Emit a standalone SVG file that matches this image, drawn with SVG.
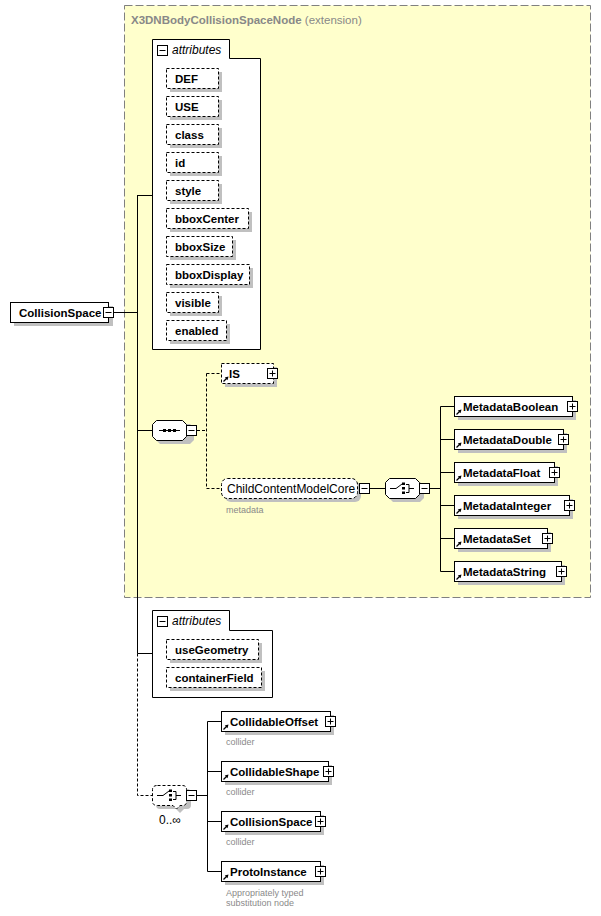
<svg xmlns="http://www.w3.org/2000/svg" width="601" height="916" viewBox="0 0 601 916">
<style>
.bg{fill:#fff}
.sh{fill:#c0c0c0;stroke:none}
.box{fill:#fff;stroke:#000;stroke-width:1}
.dbox{fill:#fff;stroke:#000;stroke-width:1;stroke-dasharray:3,2}
.el{font-family:"Liberation Sans",Arial,sans-serif;font-weight:bold;font-size:11.5px;fill:#000}
.reg{font-family:"Liberation Sans",Arial,sans-serif;font-size:12px;fill:#000}
.small{font-family:"Liberation Sans",Arial,sans-serif;font-size:9px;fill:#8a8a8a}
.ital{font-family:"Liberation Sans",Arial,sans-serif;font-style:italic;font-size:12px;fill:#000}
.title{font-family:"Liberation Sans",Arial,sans-serif;font-size:11.5px;fill:#888}
.ln{fill:none;stroke:#000;stroke-width:1}
.dln{fill:none;stroke:#000;stroke-width:1;stroke-dasharray:3,2}
.ic{fill:#fff;stroke:#000;stroke-width:1}
.pm{fill:none;stroke:#000;stroke-width:1}
</style>
<defs>
<g id="plus"><rect class="ic" x="0" y="0" width="10" height="10"/><path class="pm" d="M2,5H8M5,2V8"/></g>
<g id="minus"><rect class="ic" x="0" y="0" width="10" height="10"/><path class="pm" d="M2,5H8"/></g>
<g id="arr"><path d="M0.5,5.5L4,2" stroke="#000" stroke-width="1.2" fill="none"/><polygon points="5.5,0.5 1.8,1.5 4.5,4.2" fill="#000"/></g>
</defs>

<!-- extension box -->
<g id="ext">
<rect x="124.5" y="5.5" width="466" height="592" fill="#ffffcc" stroke="#808080" stroke-width="1" stroke-dasharray="8,3"/>
<text x="131" y="24" class="title"><tspan font-weight="bold">X3DNBodyCollisionSpaceNode</tspan> (extension)</text>
</g>

<!-- connectors -->
<g id="connectors">
<path class="ln" d="M113,312.5H137.5M137.5,195V653.5M137.5,195.5H152M137.5,430.5H152M137.5,653.5H152"/>
<path class="dln" d="M137.5,653.5V795.5H152"/>
<path class="dln" d="M197,430.5H206.5M206.5,373.5V488.5M206.5,373.5H221M206.5,488.5H221"/>
<path class="ln" d="M370,488.5H385M430,488.5H440.5M440.5,406.5V571.5M440.5,406.5H454M440.5,439.5H454M440.5,472.5H454M440.5,505.5H454M440.5,538.5H454M440.5,571.5H454"/>
<path class="ln" d="M197,795.5H207.5M207.5,721.5V871.5M207.5,721.5H221M207.5,771.5H221M207.5,821.5H221M207.5,871.5H221"/>
</g>

<!-- root -->
<g id="n-root">
<rect class="sh" x="14" y="306" width="99" height="20"/>
<rect class="box" x="10.5" y="302.5" width="98" height="20"/>
<text x="19" y="317" class="el">CollisionSpace</text>
<use href="#minus" x="103.5" y="307.5"/>
</g>

<!-- attributes group 1 -->
<g id="n-attrs1">
<path class="box" d="M152.5,349.5V39.5H229.5V58.5H260.5V349.5Z"/>
<use href="#minus" x="157.5" y="45.5"/>
<text x="172" y="54" class="ital">attributes</text>
</g>
<g id="a-DEF"><rect class="sh" x="170" y="72" width="52" height="20"/><rect class="dbox" x="166.5" y="68.5" width="52" height="20"/><text x="175" y="83" class="el">DEF</text></g>
<g id="a-USE"><rect class="sh" x="170" y="100" width="52" height="20"/><rect class="dbox" x="166.5" y="96.5" width="52" height="20"/><text x="175" y="111" class="el">USE</text></g>
<g id="a-class"><rect class="sh" x="170" y="128" width="52" height="20"/><rect class="dbox" x="166.5" y="124.5" width="52" height="20"/><text x="175" y="139" class="el">class</text></g>
<g id="a-id"><rect class="sh" x="170" y="156" width="52" height="20"/><rect class="dbox" x="166.5" y="152.5" width="52" height="20"/><text x="175" y="167" class="el">id</text></g>
<g id="a-style"><rect class="sh" x="170" y="184" width="52" height="20"/><rect class="dbox" x="166.5" y="180.5" width="52" height="20"/><text x="175" y="195" class="el">style</text></g>
<g id="a-bboxCenter"><rect class="sh" x="170" y="212" width="82" height="20"/><rect class="dbox" x="166.5" y="208.5" width="82" height="20"/><text x="175" y="223" class="el">bboxCenter</text></g>
<g id="a-bboxSize"><rect class="sh" x="170" y="240" width="66" height="20"/><rect class="dbox" x="166.5" y="236.5" width="66" height="20"/><text x="175" y="251" class="el">bboxSize</text></g>
<g id="a-bboxDisplay"><rect class="sh" x="170" y="268" width="83" height="20"/><rect class="dbox" x="166.5" y="264.5" width="83" height="20"/><text x="175" y="279" class="el">bboxDisplay</text></g>
<g id="a-visible"><rect class="sh" x="170" y="296" width="52" height="20"/><rect class="dbox" x="166.5" y="292.5" width="52" height="20"/><text x="175" y="307" class="el">visible</text></g>
<g id="a-enabled"><rect class="sh" x="170" y="324" width="60" height="20"/><rect class="dbox" x="166.5" y="320.5" width="60" height="20"/><text x="175" y="335" class="el">enabled</text></g>

<!-- sequence -->
<g id="n-seq">
<polygon class="sh" points="160,424 190,424 194,428 194,440 190,444 160,444 156,440 156,428"/>
<polygon class="box" points="156.5,420.5 182.5,420.5 186.5,424.5 186.5,436.5 182.5,440.5 156.5,440.5 152.5,436.5 152.5,424.5"/>
<path class="ln" d="M159,430.5H180"/>
<rect x="163" y="429" width="3" height="3" fill="#000"/><rect x="168" y="429" width="3" height="3" fill="#000"/><rect x="173" y="429" width="3" height="3" fill="#000"/>
<use href="#minus" x="186.5" y="425.5"/>
</g>

<!-- IS -->
<g id="n-IS">
<rect class="sh" x="225" y="367" width="52" height="20"/>
<rect class="dbox" x="221.5" y="363.5" width="52" height="20"/>
<use href="#arr" x="223" y="376"/>
<text x="229" y="378" class="el">IS</text>
<use href="#plus" x="267.5" y="368.5"/>
</g>

<!-- ChildContentModelCore -->
<g id="n-ccmc">
<rect class="sh" x="225" y="482" width="136" height="20" rx="6"/>
<rect class="dbox" x="221.5" y="478.5" width="136" height="20" rx="6"/>
<text x="227" y="493" class="reg">ChildContentModelCore</text>
<use href="#minus" x="359.5" y="483.5"/>
<text x="226" y="513" class="small">metadata</text>
</g>

<!-- choice 1 -->
<g id="n-choice1">
<polygon class="sh" points="393,482 420,482 424,486 424,498 420,502 393,502 389,498 389,486"/>
<polygon class="box" points="389.5,478.5 415.5,478.5 419.5,482.5 419.5,494.5 415.5,498.5 389.5,498.5 385.5,494.5 385.5,482.5"/>
<path class="ln" d="M390,488.5H396L402,484M406,484.5H409V492.5H406M409,488.5H414"/>
<rect x="402" y="482.5" width="3" height="2.5" fill="#000"/><rect x="402" y="487" width="3" height="2.5" fill="#000"/><rect x="402" y="491.5" width="3" height="2.5" fill="#000"/>
<use href="#minus" x="419.5" y="483.5"/>
</g>

<!-- metadata elements -->
<g id="n-MetadataBoolean"><rect class="sh" x="458" y="400" width="118" height="20"/><rect class="box" x="454.5" y="396.5" width="118" height="20"/><use href="#arr" x="456" y="409"/><text x="463" y="411" class="el">MetadataBoolean</text><use href="#plus" x="567.5" y="401.5"/></g>
<g id="n-MetadataDouble"><rect class="sh" x="458" y="433" width="109" height="20"/><rect class="box" x="454.5" y="429.5" width="109" height="20"/><use href="#arr" x="456" y="442"/><text x="463" y="444" class="el">MetadataDouble</text><use href="#plus" x="558.5" y="434.5"/></g>
<g id="n-MetadataFloat"><rect class="sh" x="458" y="466" width="100" height="20"/><rect class="box" x="454.5" y="462.5" width="100" height="20"/><use href="#arr" x="456" y="475"/><text x="463" y="477" class="el">MetadataFloat</text><use href="#plus" x="549.5" y="467.5"/></g>
<g id="n-MetadataInteger"><rect class="sh" x="458" y="499" width="115" height="20"/><rect class="box" x="454.5" y="495.5" width="115" height="20"/><use href="#arr" x="456" y="508"/><text x="463" y="510" class="el">MetadataInteger</text><use href="#plus" x="564.5" y="500.5"/></g>
<g id="n-MetadataSet"><rect class="sh" x="458" y="532" width="93" height="20"/><rect class="box" x="454.5" y="528.5" width="93" height="20"/><use href="#arr" x="456" y="541"/><text x="463" y="543" class="el">MetadataSet</text><use href="#plus" x="542.5" y="533.5"/></g>
<g id="n-MetadataString"><rect class="sh" x="458" y="565" width="107" height="20"/><rect class="box" x="454.5" y="561.5" width="107" height="20"/><use href="#arr" x="456" y="574"/><text x="463" y="576" class="el">MetadataString</text><use href="#plus" x="556.5" y="566.5"/></g>

<!-- attributes group 2 -->
<g id="n-attrs2">
<path class="box" d="M152.5,697.5V610.5H229.5V630.5H272.5V697.5Z"/>
<use href="#minus" x="157.5" y="616.5"/>
<text x="172" y="625" class="ital">attributes</text>
</g>
<g id="a-useGeometry"><rect class="sh" x="170" y="643" width="92" height="20"/><rect class="dbox" x="166.5" y="639.5" width="92" height="20"/><text x="175" y="654" class="el">useGeometry</text></g>
<g id="a-containerField"><rect class="sh" x="170" y="671" width="95" height="20"/><rect class="dbox" x="166.5" y="667.5" width="95" height="20"/><text x="175" y="682" class="el">containerField</text></g>

<!-- choice 2 (0..inf) -->
<g id="n-choice2">
<path class="sh" d="M160,789H187Q191,789 191,793V805Q191,809 187,809H184L180,813L176,809H160Q156,809 156,805V793Q156,789 160,789Z"/>
<path class="dbox" d="M157.5,785.5H182.5Q186.5,785.5 186.5,789.5V801.5Q186.5,805.5 182.5,805.5H180L176.5,809L173,805.5H157.5Q152.5,805.5 152.5,801.5V789.5Q152.5,785.5 157.5,785.5Z"/>
<path class="ln" d="M157,795.5H163L169,791M173,791.5H176V799.5H173M176,795.5H181"/>
<rect x="169" y="789.5" width="3" height="2.5" fill="#000"/><rect x="169" y="794" width="3" height="2.5" fill="#000"/><rect x="169" y="798.5" width="3" height="2.5" fill="#000"/>
<use href="#minus" x="186.5" y="790.5"/>
<text x="159" y="824" class="reg" fill="#1a1a4d">0..∞</text>
</g>

<!-- collider elements -->
<g id="n-CollidableOffset"><rect class="sh" x="225" y="715" width="109" height="20"/><rect class="box" x="221.5" y="711.5" width="109" height="20"/><use href="#arr" x="223" y="724"/><text x="230" y="726" class="el">CollidableOffset</text><use href="#plus" x="325.5" y="716.5"/><text x="226" y="745" class="small">collider</text></g>
<g id="n-CollidableShape"><rect class="sh" x="225" y="765" width="107" height="20"/><rect class="box" x="221.5" y="761.5" width="107" height="20"/><use href="#arr" x="223" y="774"/><text x="230" y="776" class="el">CollidableShape</text><use href="#plus" x="323.5" y="766.5"/><text x="226" y="795" class="small">collider</text></g>
<g id="n-CollisionSpace"><rect class="sh" x="225" y="815" width="99" height="20"/><rect class="box" x="221.5" y="811.5" width="99" height="20"/><use href="#arr" x="223" y="824"/><text x="230" y="826" class="el">CollisionSpace</text><use href="#plus" x="315.5" y="816.5"/><text x="226" y="845" class="small">collider</text></g>
<g id="n-ProtoInstance"><rect class="sh" x="225" y="865" width="99" height="20"/><rect class="box" x="221.5" y="861.5" width="99" height="20"/><use href="#arr" x="223" y="874"/><text x="230" y="876" class="el">ProtoInstance</text><use href="#plus" x="315.5" y="866.5"/><text x="226" y="896" class="small">Appropriately typed</text><text x="226" y="906" class="small">substitution node</text></g>
</svg>
